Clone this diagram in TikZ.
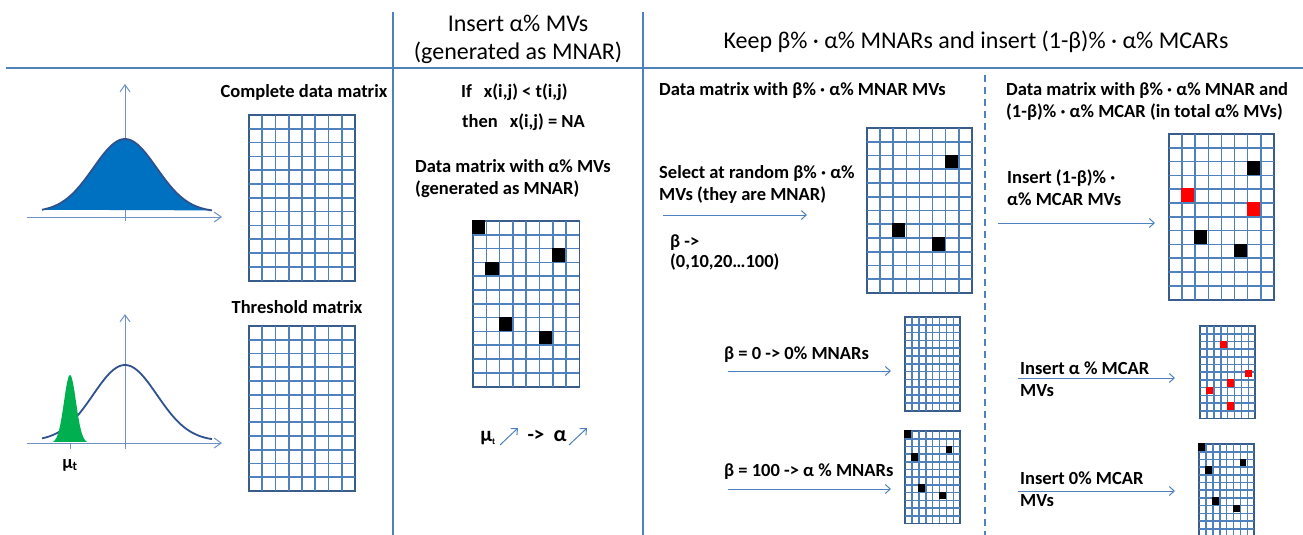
\documentclass[tikz,border=0pt]{standalone}
\usepackage{fontspec}
\setmainfont{Carlito}
\usepackage{tikz}
\usetikzlibrary{arrows.meta, positioning, calc}
\definecolor{mvblue}{RGB}{79,129,189}
\definecolor{mvframe}{RGB}{56,93,138}
\definecolor{mvfill}{RGB}{0,112,192}
\definecolor{mvcurve}{RGB}{47,82,143}
\definecolor{mvgreen}{RGB}{0,176,80}
\definecolor{mvaxis}{RGB}{110,145,200}
\definecolor{mvred}{RGB}{255,0,0}

% grid of 8 x 12 cells: name, left, top, cell width, cell height
\newcommand{\mvgrid}[5]{%
  \node[gridbox, minimum width={8*#4 pt}, minimum height={12*#5 pt}] (#1) at ({#2+4*#4},{#3+6*#5}) {};
  \foreach \i in {1,...,7}
    \draw[gridline] ({#2+\i*#4},#3) -- ({#2+\i*#4},{#3+12*#5});
  \foreach \j in {1,...,11}
    \draw[gridline] (#2,{#3+\j*#5}) -- ({#2+8*#4},{#3+\j*#5});
}
% missing values: [colour] grid name, cell width, cell height, col/row list
\newcommand{\mvmark}[5][black]{%
  \foreach \c/\r in {#5}
    \fill[#1] ($(#2.north west)+({\c*#3},{\r*#4})$) rectangle ++(#3,#4);
}

\begin{document}
\begin{tikzpicture}[x=1pt,y=-1pt,
  divider/.style={mvblue, line width=1.5pt},
  flow/.style={-{Straight Barb[length=5pt,width=9pt]}, mvblue, line width=1pt},
  axis/.style={-{Straight Barb[length=7pt,width=10pt]}, mvaxis, line width=1pt},
  headtext/.style={font=\fontsize{24}{28}\selectfont, align=center, inner sep=0pt},
  bodytext/.style={font=\bfseries\fontsize{18.5}{22}\selectfont, align=left, inner sep=0pt},
  gridbox/.style={draw=mvframe, line width=1.8pt, inner sep=0pt},
  gridline/.style={mvblue, line width=1.6pt},
]
\useasboundingbox (0,0) rectangle (1303,535);

% frame of the table
\draw[divider] (6,68) -- (1303,68);
\draw[divider] (393,12) -- (393,535);
\draw[divider] (643,12) -- (643,535);
\draw[mvblue, line width=1.2pt, dash pattern=on 7pt off 5pt] (985,75) -- (985,535);

% headers
\node[headtext] (hinsert) at (518,39) {Insert α\% MVs\\(generated as MNAR)};
\node[headtext] (hkeep) at (976,42) {Keep β\% · α\% MNARs and insert (1-β)\% · α\% MCARs};

% data distribution
\draw[axis] (27,217) -- (222,217);
\draw[axis] (125,221) -- (125,84);
\fill[mvfill] plot[domain=42:212,samples=80] (\x,{212-73*exp(-0.5*((\x-125)/31.5)*((\x-125)/31.5))}) -- cycle;
\draw[mvcurve, line width=1.8pt] plot[domain=42:212,samples=80] (\x,{212-73*exp(-0.5*((\x-125)/31.5)*((\x-125)/31.5))});
\node[bodytext] (lcomplete) at (304,92) {Complete data matrix};
\mvgrid{complete}{249}{115}{13.25}{13.8}

% threshold distribution
\draw[axis] (27,443) -- (222,443);
\draw[axis] (125,449) -- (125,314);
\draw[mvcurve, line width=1.8pt] plot[domain=42:212,samples=80] (\x,{441-76*exp(-0.5*((\x-125)/32)*((\x-125)/32))});
\fill[mvgreen] plot[domain=53:87,samples=40] (\x,{443-68*exp(-0.5*((\x-70)/6)*((\x-70)/6))}) -- cycle;
\draw[mvaxis, line width=0.8pt] (70,443) -- (70,449);
\node[bodytext] (lmu) at (70,465) {μ\textsubscript{t}};
\node[bodytext] (lthreshold) at (297,307) {Threshold matrix};
\mvgrid{threshold}{249}{326}{13.25}{13.75}

% insert MNAR
\node[bodytext, anchor=west] (lif) at (461,92) {If\hspace{12pt}x(i,j) < t(i,j)};
\node[bodytext, anchor=west] (lthen) at (462,122) {then\hspace{12pt}x(i,j) = NA};
\node[bodytext, anchor=west] (lalpha) at (415,179) {Data matrix with α\% MVs\\(generated as MNAR)};
\mvgrid{alpha}{473}{221}{13.3}{13.8}
\mvmark{alpha}{13.3}{13.8}{0/0,6/2,1/3,2/7,5/8}
\node[bodytext, font=\bfseries\fontsize{21}{22}\selectfont] (lmut) at (488,438) {μ\textsubscript{\fontsize{9}{9}\selectfont t}};
\coordinate (upa1) at (500,445);
\coordinate (upa2) at (518,428);
\draw[flow] (upa1) -- (upa2);
\node[bodytext, font=\bfseries\fontsize{21}{22}\selectfont] (limpl) at (536,436) {->};
\node[bodytext, font=\bfseries\fontsize{22}{22}\selectfont] (lalph) at (560,436) {α};
\coordinate (upb1) at (569,445);
\coordinate (upb2) at (587,428);
\draw[flow] (upb1) -- (upb2);

% keep MNAR
\node[bodytext, anchor=west] (lkeep) at (659,91) {Data matrix with β\% · α\% MNAR MVs};
\node[bodytext, anchor=west] (lselect) at (659,184) {Select at random β\% · α\%\\MVs (they are MNAR)};
\coordinate (sel1) at (663,215);
\coordinate (sel2) at (807,215);
\draw[flow] (sel1) -- (sel2);
\node[bodytext, anchor=west, font=\bfseries\fontsize{18.5}{20}\selectfont] (lbeta) at (670,253) {β ->\\(0,10,20…100)};
\mvgrid{keep}{867}{128}{13.1}{13.75}
\mvmark{keep}{13.1}{13.75}{6/2,2/7,5/8}

\node[bodytext, anchor=west] (lzero) at (724,355) {β = 0 -> 0\% MNARs};
\coordinate (zero1) at (728,371);
\coordinate (zero2) at (891,371);
\draw[flow] (zero1) -- (zero2);
\mvgrid{zero}{905}{317}{6.9}{7.8}

\node[bodytext, anchor=west] (lhundred) at (724,472) {β = 100 -> α \% MNARs};
\coordinate (hun1) at (728,489);
\coordinate (hun2) at (891,489);
\draw[flow] (hun1) -- (hun2);
\mvgrid{hundred}{905}{431}{6.9}{7.7}
\mvmark{hundred}{6.9}{7.7}{0/0,6/2,1/3,2/7,5/8}

% insert MCAR
\node[bodytext, anchor=west] (lmixed) at (1006,101) {Data matrix with β\% · α\% MNAR and\\(1-β)\% · α\% MCAR (in total α\% MVs)};
\node[bodytext, anchor=west] (linsert) at (1007,188) {Insert (1-β)\% ·\\α\% MCAR MVs};
\coordinate (ins1) at (998,223);
\coordinate (ins2) at (1155,223);
\draw[flow] (ins1) -- (ins2);
\mvgrid{mixed}{1169}{134}{13.1}{13.8}
\mvmark{mixed}{13.1}{13.8}{6/2,2/7,5/8}
\mvmark[mvred]{mixed}{13.1}{13.8}{1/4,6/5}

\node[bodytext, anchor=west] (lmcar) at (1020,379) {Insert α \% MCAR\\MVs};
\coordinate (mcar1) at (1018,378);
\coordinate (mcar2) at (1175,378);
\draw[flow] (mcar1) -- (mcar2);
\mvgrid{mcar}{1200}{326}{6.9}{7.7}
\mvmark[mvred]{mcar}{6.9}{7.7}{3/2,6.7/5.8,4/7,1/8,4/10}

\node[bodytext, anchor=west] (lnomcar) at (1020,489) {Insert 0\% MCAR\\MVs};
\coordinate (nom1) at (1018,491);
\coordinate (nom2) at (1175,491);
\draw[flow] (nom1) -- (nom2);
\mvgrid{nomcar}{1199}{444}{6.9}{7.7}
\mvmark{nomcar}{6.9}{7.7}{0/0,6/2,1/3,2/7,5/8}
\end{tikzpicture}
\end{document}
